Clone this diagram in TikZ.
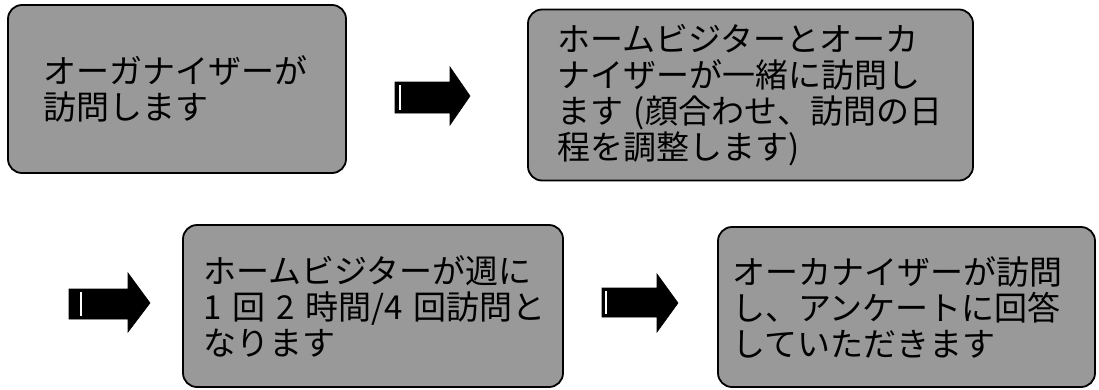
\documentclass[tikz,border=0pt]{standalone}
\usepackage{fontspec}
\newfontfamily\jp{Noto Sans CJK JP}
\begin{document}
\begin{tikzpicture}[x=1pt,y=-1pt,
  stepbox/.style={draw=black, line width=1.8pt, rounded corners=14pt, fill=black!40,
    inner sep=0pt, align=left, font=\jp\fontsize{33}{36}\selectfont, text=black},
  blockarrow/.style={fill=black, draw=black, line width=0.6pt, line join=miter},
  gap/.style={draw=white, line width=1.2pt}]
\useasboundingbox (0,0) rectangle (1099,389);
% boxes
\node[stepbox, minimum width=338pt, minimum height=168pt, text width=268pt] (b1) at (177,89)
  {オーガナイザーが\\訪問します};
\node[stepbox, minimum width=445pt, minimum height=171pt, text width=387pt] (b2) at (750.5,95)
  {ホームビジターとオーカ\\ナイザーが一緒に訪問し\\\mbox{ます (顔合わせ、訪問の日}\\\mbox{程を調整します)}};
\node[stepbox, minimum width=380pt, minimum height=162pt, text width=340pt] (b3) at (373,306)
  {ホームビジターが週に\\\mbox{1 回 2 時間/4 回訪問と}\\なります};
\node[stepbox, minimum width=377pt, minimum height=160pt, text width=349pt] (b4) at (906.5,307)
  {オーカナイザーが訪問\\し、アンケートに回答\\していただきます};
% block arrows
\draw[blockarrow] (395,82) -- (450,82) -- (450,67) -- (470,96) -- (450,125) -- (450,113) -- (395,113) -- cycle;
\draw[gap] (400,85) -- (400,110);
\draw[blockarrow] (69,289) -- (128,289) -- (128,273) -- (150,303) -- (128,332) -- (128,319) -- (69,319) -- cycle;
\draw[gap] (81,292) -- (81,316);
\draw[blockarrow] (602,288) -- (657,288) -- (657,274) -- (678,303) -- (657,332) -- (657,317) -- (602,317) -- cycle;
\draw[gap] (606,291) -- (606,314);
\end{tikzpicture}
\end{document}
